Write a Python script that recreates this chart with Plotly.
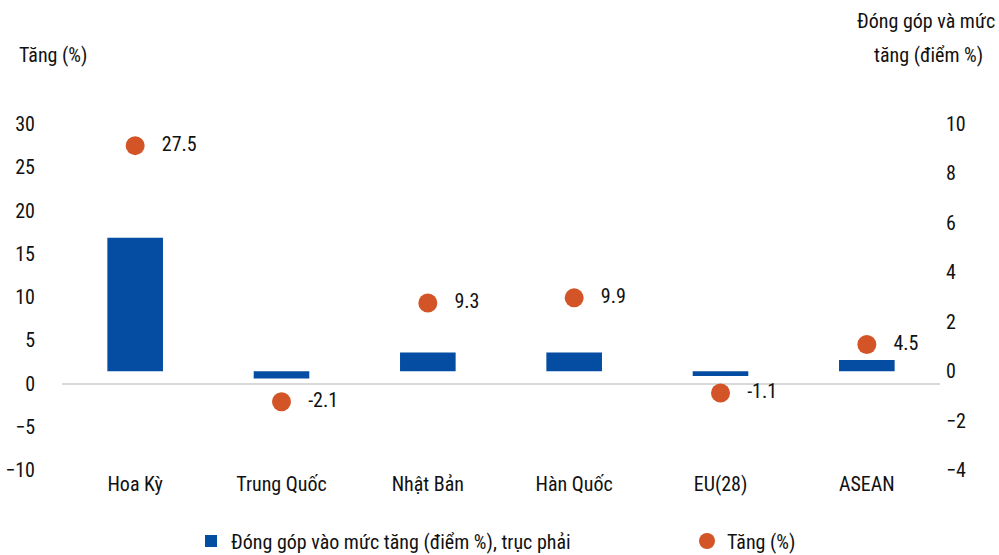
import plotly.graph_objects as go

categories = ["Hoa Kỳ", "Trung Quốc", "Nhật Bản", "Hàn Quốc", "EU(28)", "ASEAN"]
contribution = [5.4, -0.3, 0.75, 0.75, -0.2, 0.45]   # right axis, điểm %
growth = [27.5, -2.1, 9.3, 9.9, -1.1, 4.5]            # left axis, %
growth_labels = ["27.5", "-2.1", "9.3", "9.9", "-1.1", "4.5"]

left_ticks = [-10, -5, 0, 5, 10, 15, 20, 25, 30]
right_ticks = [-4, -2, 0, 2, 4, 6, 8, 10]

FONT = "Liberation Sans Narrow, Roboto Condensed, Arial Narrow, Roboto, sans-serif"
BLUE = "#044DA2"
ORANGE = "#D35427"

W = 999 - 62 - 59
H = 555 - 124 - 85
def px(xp): return (xp - 62) / W
def py(yp): return (555 - 85 - yp) / H

fig = go.Figure()
fig.add_trace(go.Bar(
    x=categories, y=contribution, yaxis="y2", width=0.38,
    marker=dict(color=BLUE, line=dict(width=0)),
    name="Đóng góp vào mức tăng (điểm %), trục phải", showlegend=True,
))
fig.add_trace(go.Scatter(
    x=categories, y=growth, yaxis="y", mode="markers+text",
    marker=dict(color=ORANGE, size=19),
    text=["   " + t for t in growth_labels], textposition="middle right",
    textfont=dict(family=FONT, size=20, color="#111"),
    name="Tăng (%)", legend="legend2", showlegend=True,
))

fig.update_layout(
    width=999, height=555, showlegend=True,
    margin=dict(l=62, r=59, t=124, b=85, autoexpand=False),
    paper_bgcolor="white", plot_bgcolor="white",
    font=dict(family=FONT, size=20, color="#111"),
    xaxis=dict(showgrid=False, showline=False, ticks="", tickfont=dict(size=20)),
    yaxis=dict(range=[-10, 30], tickvals=left_ticks, showgrid=False,
               zeroline=True, zerolinecolor="#d9d9d9", zerolinewidth=2,
               showline=False, ticks="", ticklabelstandoff=26,
               tickfont=dict(size=20)),
    yaxis2=dict(range=[-4, 10], tickvals=right_ticks, overlaying="y", side="right",
                showgrid=False, zeroline=False, showline=False, ticks="",
                ticklabelstandoff=5, tickfont=dict(size=20)),
    legend=dict(orientation="h", x=px(191), xanchor="left", y=py(541), yanchor="middle",
                font=dict(size=20), itemwidth=30, bgcolor="rgba(0,0,0,0)", visible=True),
    legend2=dict(orientation="h", x=px(687), xanchor="left", y=py(541), yanchor="middle",
                 font=dict(size=20), itemwidth=30, bgcolor="rgba(0,0,0,0)", visible=True),
    annotations=[
        dict(text="Tăng (%)", x=px(17), y=py(55), xref="paper", yref="paper",
             showarrow=False, xanchor="left", yanchor="middle"),
        dict(text="Đóng góp và mức", showarrow=False,
             xref="paper", yref="paper", x=px(926), y=py(21),
             xanchor="center", yanchor="middle"),
        dict(text="tăng (điểm %)", showarrow=False,
             xref="paper", yref="paper", x=px(928), y=py(55),
             xanchor="center", yanchor="middle"),
    ],
)

fig.write_html("out.html")
